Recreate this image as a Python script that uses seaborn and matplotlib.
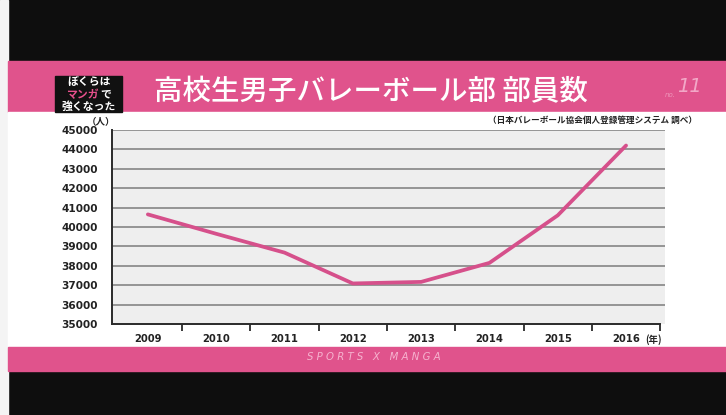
import numpy as np
import pandas as pd
import matplotlib
matplotlib.use("Agg")
import matplotlib.pyplot as plt
import seaborn as sns
from matplotlib.patches import Rectangle
from matplotlib.ticker import FixedLocator

# ---- data ----
years = [2009, 2010, 2011, 2012, 2013, 2014, 2015, 2016]
members = [40650, 39650, 38680, 37090, 37170, 38150, 40600, 44200]
yticks = [35000, 36000, 37000, 38000, 39000, 40000, 41000, 42000, 43000, 44000, 45000]
title = "高校生男子バレーボール部 部員数"
source = "（日本バレーボール協会個人登録管理システム 調べ）"
unit_y = "（人）"
unit_x = "(年)"

df = pd.DataFrame({"year": years, "members": members})

sns.set_theme(style="white")
plt.rcParams['font.family'] = ['DejaVu Sans', 'Noto Sans CJK JP']
CJK = ['Noto Sans CJK JP', 'DejaVu Sans']

W, H = 726, 415
fig = plt.figure(figsize=(W / 100, H / 100), dpi=100)
fig.patch.set_facecolor('#0e0e0e')

PINK = '#e0538c'
LINE = '#d6508b'

def fx(x):
    return x / W

def fy(y):
    return 1 - y / H

# background bands
fig.add_artist(Rectangle((0, 0), fx(8), 1, transform=fig.transFigure, color='#f4f4f4', zorder=0))
fig.add_artist(Rectangle((fx(8), fy(112)), 1, fy(61) - fy(112), transform=fig.transFigure, color=PINK, zorder=0))
fig.add_artist(Rectangle((fx(8), fy(347)), 1, fy(112) - fy(347), transform=fig.transFigure, color='white', zorder=0))
fig.add_artist(Rectangle((fx(8), fy(371)), 1, fy(347) - fy(371), transform=fig.transFigure, color=PINK, zorder=0))

# logo box
fig.add_artist(Rectangle((fx(55), fy(112)), fx(122) - fx(55), fy(76) - fy(112),
                         transform=fig.transFigure, color='#111111', zorder=1))
fig.text(fx(89), fy(82), "ぼくらは", color='white', fontsize=7.8, fontweight='bold',
         family=CJK, ha='center', va='center')
fig.text(fx(66), fy(94.5), "マンガ", color='#e8508c', fontsize=7.8, fontweight='bold',
         family=CJK, ha='left', va='center')
fig.text(fx(100), fy(94.5), "で", color='white', fontsize=7.8, fontweight='bold',
         family=CJK, ha='left', va='center')
fig.text(fx(89), fy(106.5), "強くなった", color='white', fontsize=7.8, fontweight='bold',
         family=CJK, ha='center', va='center')

# title
fig.text(fx(371), fy(92), title, color='white', fontsize=20.5, family=CJK,
         fontweight='medium', ha='center', va='center')

# "no.11" mark
fig.text(fx(670), fy(95), "no.", color='#f3a6c6', fontsize=5, style='italic',
         ha='center', va='center', alpha=0.8)
fig.text(fx(689), fy(87), "11", color='#f6b8d2', fontsize=14, style='italic',
         ha='center', va='center', alpha=0.85)

# source note
fig.text(fx(697), fy(120), source, color='#222222', fontsize=6.2, fontweight='bold',
         family=CJK, ha='right', va='center')

# footer
fig.text(fx(374), fy(357), "S P O R T S   X   M A N G A", color='#f6b3cf',
         fontsize=7.3, style='italic', ha='center', va='center')

# ---- axes ----
ax = fig.add_axes([fx(112), fy(324), fx(665) - fx(112), fy(130) - fy(324)])
ax.set_facecolor('#eeeeee')
ax.set_zorder(2)

sns.lineplot(data=df, x="year", y="members", ax=ax, color=LINE, linewidth=2.7,
             solid_joinstyle='miter', zorder=5)

ax.set_xlim(2008.475, 2016.57)
ax.set_ylim(35000, 45000)
ax.set_yticks(yticks)
ax.set_yticklabels([str(v) for v in yticks])
ax.set_xticks(years)
ax.set_xticklabels([str(y) for y in years])
ax.xaxis.set_minor_locator(FixedLocator([y + 0.5 for y in years]))

ax.grid(False)
for v in yticks[1:]:
    ax.axhline(v, color='#7c7c7c', linewidth=1.1, zorder=1)

for s in ['top', 'right']:
    ax.spines[s].set_visible(False)
ax.spines['left'].set_color('#2a2a2a')
ax.spines['left'].set_linewidth(1.4)
ax.spines['bottom'].set_color('#2a2a2a')
ax.spines['bottom'].set_linewidth(1.4)
ax.spines['bottom'].set_bounds(2008.475, 2016.5)

ax.tick_params(axis='x', which='major', length=0, pad=7, labelsize=7.2, labelcolor='#222222')
ax.tick_params(axis='x', which='minor', length=5, width=1.3, color='#2a2a2a', direction='out', bottom=True)
ax.tick_params(axis='y', which='major', length=0, pad=10, labelsize=7.6, labelcolor='#222222')
for lab in ax.get_xticklabels() + ax.get_yticklabels():
    lab.set_fontweight('bold')

ax.set_xlabel("")
ax.set_ylabel("")

# unit labels
fig.text(fx(101), fy(122), unit_y, color='#222222', fontsize=6.8, fontweight='bold',
         family=CJK, ha='center', va='center')
fig.text(fx(645), fy(340), unit_x, color='#222222', fontsize=6.8, fontweight='bold',
         family=CJK, ha='left', va='center')

fig.savefig("out.png", dpi=100, facecolor=fig.get_facecolor())
